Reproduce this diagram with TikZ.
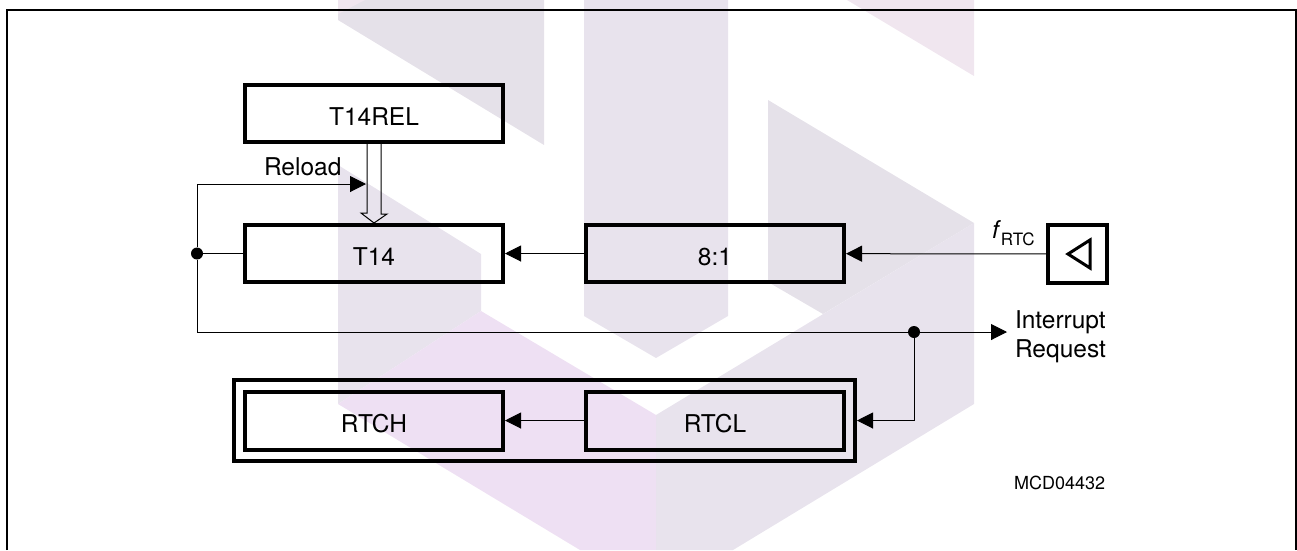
\documentclass[tikz,border=0pt]{standalone}
\usepackage{fontspec}
\setmainfont{TeX Gyre Heros}
\usepackage{tikz}
\usepackage{xcolor}
\usetikzlibrary{arrows.meta}
\pgfdeclarelayer{bg}
\pgfsetlayers{bg,main}
\definecolor{Mark-A}{RGB}{229, 225, 233}
\definecolor{Mark-B}{RGB}{232, 227, 237}
\definecolor{Mark-C}{RGB}{240, 230, 239}
\definecolor{Mark-D}{RGB}{238, 224, 243}
\tikzset{
  regbox/.style={rectangle, draw=black, line width=4pt, minimum width=258pt, minimum height=57pt, inner sep=0pt, text height=24pt, text depth=0pt, align=center},
  wire/.style={draw=black, line width=1pt},
  arr/.style={-{Triangle[length=16pt,width=16pt]}},
  junction/.style={circle, fill=black, minimum size=12pt, inner sep=0pt},
  label/.style={inner sep=0pt, outer sep=0pt, anchor=base west}
}

\begin{document}
\begin{tikzpicture}[x=1pt, y=-1pt, font=\fontsize{24.5}{29}\selectfont]
\useasboundingbox (0,0) rectangle (1297,550);

\begin{pgfonlayer}{bg}
\fill [Mark-A] (338,0) -- (544,0) -- (544,145) -- (338,20) -- cycle;
\fill [Mark-C] (338,0) -- (365,0) -- (338,14) -- cycle;
\fill [Mark-B] (584,0) -- (728,0) -- (728,316) -- (656,358) -- (584,316) -- cycle;
\fill [Mark-C] (847,0) -- (974,0) -- (974,76) -- cycle;
\fill [Mark-A] (768,100) -- (974,223) -- (823,314) -- (768,282) -- cycle;
\fill [Mark-B] (974,223) -- (974,404) -- (733,550) -- (656,550) -- (656,415) -- cycle;
\fill [Mark-B] (338,165) -- (481,254) -- (481,311) -- (338,404) -- cycle;
\fill [Mark-D] (481,311) -- (656,415) -- (656,550) -- (580,550) -- (338,404) -- cycle;
\end{pgfonlayer}

\draw [line width=2.5pt] (7,550) -- (7,10) -- (1296,10) -- (1296,550);

\node [regbox] (t14rel) at (374,113.5) {T14REL};
\node [regbox] (t14) at (374,253.5) {T14};
\node [regbox] (div) at (715,253.5) {8:1};
\node [regbox, minimum width=59pt, minimum height=58pt] (fbox) at (1077.5,254) {};
\node [regbox, minimum width=621pt, minimum height=81pt] (rtcbox) at (544.5,420.5) {};
\node [regbox, minimum height=58pt] (rtch) at (374,420.5) {RTCH};
\node [regbox, minimum height=58pt] (rtcl) at (715,420.5) {RTCL};

\node [junction] (jleft) at (197,253.5) {};
\node [junction] (jright) at (914,332) {};
\coordinate (reltip) at (366,184);
\coordinate (irqtip) at (1007,332);

% clock symbol
\draw [line width=3pt, line join=miter] ([xshift=-9.5pt]fbox.center) -- ([xshift=12.5pt,yshift=14pt]fbox.center) -- ([xshift=12.5pt,yshift=-14pt]fbox.center) -- cycle;

% hollow load arrow
\draw [line width=1pt] ([xshift=-7pt]t14rel.south) -- ++(0,69) -- ++(-6,0) -- (t14.north) -- ++(13,-9) -- ++(-6,0) -- ([xshift=7pt]t14rel.south);

\draw [wire, arr] (fbox) -- (div);
\draw [wire, arr] (div) -- (t14);
\draw [wire, arr] (rtcl) -- (rtch);
\draw [wire] (jleft) -- (t14);
\draw [wire, arr] (jleft) |- (reltip);
\draw [wire] (jleft) |- (jright);
\draw [wire, arr] (jright) -- (irqtip);
\draw [wire, arr] (jright) |- (rtcbox.east);

\node [label] (reload) at (264,175) {Reload};
\node [label] (frtc) at (992,238) {\textit{f}\raisebox{-7pt}{\fontsize{17}{17}\selectfont RTC}};
\node [label] (irq) at (1015,328) {Interrupt};
\node [label] (req) at (1015,357) {Request};
\node [label, font=\fontsize{18}{18}\selectfont] (code) at (1014,489) {MCD04432};

\end{tikzpicture}
\end{document}
